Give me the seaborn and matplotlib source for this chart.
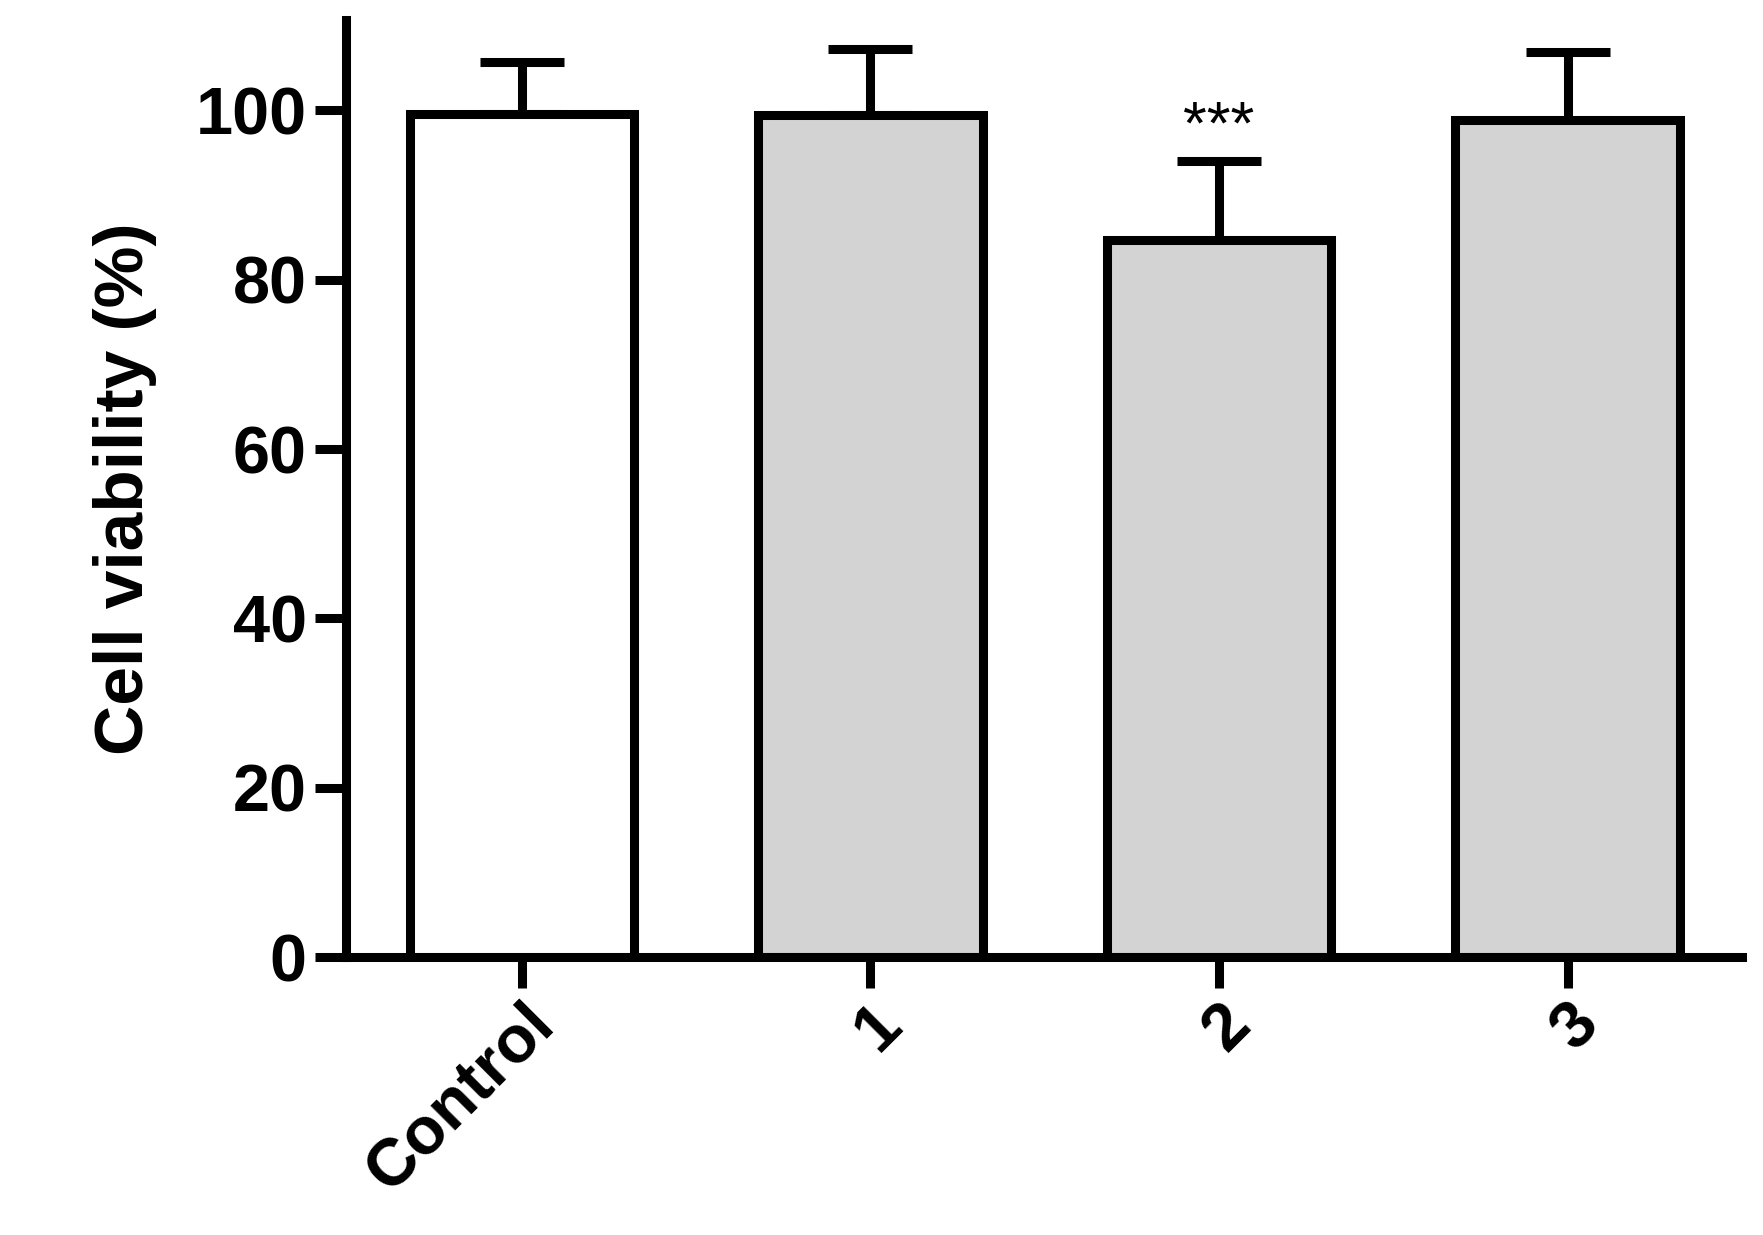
import pandas as pd
import numpy as np
import matplotlib
matplotlib.use("Agg")
import matplotlib.pyplot as plt
import seaborn as sns

groups = ["Control", "1", "2", "3"]
viability = [99.6, 99.4, 84.7, 98.9]
sd = [6.1, 7.9, 9.3, 8.0]
fills = ["white", "#d3d3d3", "#d3d3d3", "#d3d3d3"]

df = pd.DataFrame({"Group": groups, "Viability": viability})

sns.set_style("ticks")
plt.rcParams["font.family"] = ["Liberation Sans", "DejaVu Sans"]
plt.rcParams["font.weight"] = "bold"
plt.rcParams["text.color"] = "black"
plt.rcParams["axes.labelcolor"] = "black"
plt.rcParams["xtick.color"] = "black"
plt.rcParams["ytick.color"] = "black"
plt.rcParams["axes.edgecolor"] = "black"

fig = plt.figure(figsize=(17.63, 12.35), dpi=100)
ax = fig.add_axes([0.196, 0.225, 0.792, 0.759])

sns.barplot(data=df, x="Group", y="Viability", hue="Group", palette=fills,
            width=0.645, edgecolor="black", linewidth=6.5, errorbar=None,
            legend=False, ax=ax)
ax.errorbar(range(len(groups)), viability, yerr=[np.zeros(len(sd)), sd],
            fmt="none", ecolor="black", elinewidth=6.5, capsize=30, capthick=6.5, zorder=0)

ax.text(2, viability[2] + sd[2] + 0.5, "***", ha="center", va="bottom",
        fontsize=44, fontweight="normal")

ax.set_xlim(-0.506, 3.5)
ax.set_ylim(0, 110.7)
ax.set_yticks([0, 20, 40, 60, 80, 100])
ax.set_xlabel("")
ax.set_ylabel("Cell viability (%)", fontsize=50, fontweight="bold", labelpad=28)
for s in ["top", "right"]:
    ax.spines[s].set_visible(False)
for s in ["left", "bottom"]:
    ax.spines[s].set_linewidth(6.5)
ax.tick_params(axis="both", width=6.5, length=22, labelsize=48, colors="black")
ax.tick_params(axis="y", pad=6)
plt.setp(ax.get_xticklabels(), rotation=45, ha="right", rotation_mode="anchor", fontweight="bold")
plt.setp(ax.get_yticklabels(), fontweight="bold")

fig.savefig("out.png", dpi=100)
